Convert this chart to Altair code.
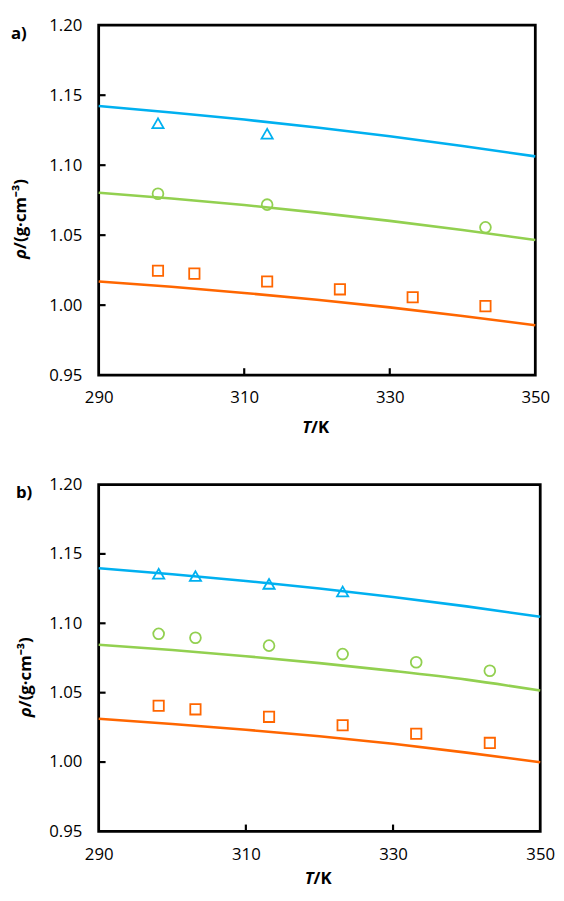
import altair as alt
import pandas as pd

# ---------------- data ----------------
T_line = [290, 300, 310, 320, 330, 340, 350]

# panel a) model lines
a_blue_line = [1.1423, 1.1377, 1.1326, 1.1269, 1.1206, 1.1137, 1.1063]
a_green_line = [1.0803, 1.0762, 1.0715, 1.0661, 1.0602, 1.0537, 1.0465]
a_orange_line = [1.0169, 1.0131, 1.0087, 1.0038, 0.9984, 0.9923, 0.9857]

# panel a) experimental points
a_tri_T = [298.15, 313.15]
a_tri_rho = [1.1300, 1.1225]
a_cir_T = [298.15, 313.15, 343.15]
a_cir_rho = [1.0796, 1.0718, 1.0556]
a_sq_T = [298.15, 303.15, 313.15, 323.15, 333.15, 343.15]
a_sq_rho = [1.0246, 1.0225, 1.0169, 1.0113, 1.0056, 0.9993]

# panel b) model lines
b_blue_line = [1.1397, 1.1353, 1.1305, 1.1250, 1.1190, 1.1122, 1.1047]
b_green_line = [1.0846, 1.0807, 1.0763, 1.0713, 1.0657, 1.0594, 1.0515]
b_orange_line = [1.0312, 1.0275, 1.0233, 1.0186, 1.0132, 1.0068, 0.9999]

# panel b) experimental points
b_tri_T = [298.15, 303.15, 313.15, 323.15]
b_tri_rho = [1.1357, 1.1340, 1.1284, 1.1229]
b_cir_T = [298.15, 303.15, 313.15, 323.15, 333.15, 343.15]
b_cir_rho = [1.0924, 1.0896, 1.0839, 1.0778, 1.0719, 1.0658]
b_sq_T = [298.15, 303.15, 313.15, 323.15, 333.15, 343.15]
b_sq_rho = [1.0406, 1.0380, 1.0326, 1.0265, 1.0204, 1.0138]

x_ticks = [290, 310, 330, 350]
y_ticks = [0.95, 1.00, 1.05, 1.10, 1.15, 1.20]
x_inner_ticks = [310, 330]
y_inner_ticks = [1.00, 1.05, 1.10, 1.15]

series = ["blue", "green", "orange"]
colors = ["#00B0F0", "#92D050", "#FF6600"]
shapes = ["triangle-up", "circle", "square"]
sizes = [130, 110, 110]

FONT = "Open Sans"


def panel(label, lines, pts, width, height, lab_dx, title_dx, xt_dy, yt_y):
    line_rows = []
    for s, vals in zip(series, lines):
        for t, v in zip(T_line, vals):
            line_rows.append({"T": t, "rho": v, "series": s})
    pt_rows = []
    for s, (ts, vs) in zip(series, pts):
        for t, v in zip(ts, vs):
            pt_rows.append({"T": t, "rho": v, "series": s})
    df_l = pd.DataFrame(line_rows)
    df_p = pd.DataFrame(pt_rows)

    xs = alt.Scale(domain=[290, 350], nice=False, zero=False)
    ys = alt.Scale(domain=[0.95, 1.20], nice=False, zero=False)
    cs = alt.Scale(domain=series, range=colors)

    xax = alt.Axis(values=x_ticks, ticks=False, domain=False, grid=False,
                   labelFlush=False, labelOverlap=False,
                   labelPadding=15, labelFontSize=17, labelFont=FONT,
                   labelColor="black", format="d", title=None)
    yax = alt.Axis(values=y_ticks, ticks=False, domain=False, grid=False,
                   labelFlush=False, labelOverlap=False,
                   labelPadding=17, labelFontSize=17, labelFont=FONT,
                   labelColor="black", format=".2f", title=None)

    line = alt.Chart(df_l).mark_line(strokeWidth=2.6, interpolate="monotone").encode(
        x=alt.X("T:Q", scale=xs, axis=xax),
        y=alt.Y("rho:Q", scale=ys, axis=yax),
        color=alt.Color("series:N", scale=cs, legend=None),
    )
    points = alt.Chart(df_p).mark_point(filled=False, strokeWidth=1.8, opacity=1).encode(
        x=alt.X("T:Q", scale=xs),
        y=alt.Y("rho:Q", scale=ys),
        color=alt.Color("series:N", scale=cs, legend=None),
        shape=alt.Shape("series:N", scale=alt.Scale(domain=series, range=shapes), legend=None),
        size=alt.Size("series:N", scale=alt.Scale(domain=series, range=sizes), legend=None),
    )
    yt = alt.Chart(pd.DataFrame({"v": y_inner_ticks})).mark_rule(
        color="black", strokeWidth=2.2).encode(
        y=alt.Y("v:Q", scale=ys), x=alt.value(0), x2=alt.value(7))
    xt = alt.Chart(pd.DataFrame({"v": x_inner_ticks})).mark_rule(
        color="black", strokeWidth=2.2).encode(
        x=alt.X("v:Q", scale=xs), y=alt.value(height), y2=alt.value(height - 7))

    txt = pd.DataFrame({"k": [label]})
    lab = alt.Chart(txt).mark_text(font=FONT, fontSize=17, fontWeight="bold",
                                   align="left", baseline="middle", color="black").encode(
        x=alt.value(lab_dx), y=alt.value(9), text=alt.value(label))
    xt1 = alt.Chart(txt).mark_text(font=FONT, fontSize=17, fontWeight="bold",
                                   fontStyle="italic", align="right", baseline="middle",
                                   color="black").encode(
        x=alt.value(width / 2 - 6), y=alt.value(height + xt_dy), text=alt.value("T"))
    xt2 = alt.Chart(txt).mark_text(font=FONT, fontSize=17, fontWeight="bold",
                                   align="left", baseline="middle", color="black").encode(
        x=alt.value(width / 2 - 6), y=alt.value(height + xt_dy), text=alt.value("/K"))
    yt1 = alt.Chart(txt).mark_text(font=FONT, fontSize=17, fontWeight="bold",
                                   fontStyle="italic", align="right", baseline="middle",
                                   angle=270, color="black").encode(
        x=alt.value(title_dx), y=alt.value(yt_y), text=alt.value("ρ"))
    yt2 = alt.Chart(txt).mark_text(font=FONT, fontSize=17, fontWeight="bold",
                                   align="left", baseline="middle",
                                   angle=270, color="black").encode(
        x=alt.value(title_dx), y=alt.value(yt_y), text=alt.value("/(g·cm⁻³)"))

    return alt.layer(line, points, yt, xt, lab, xt1, xt2, yt1, yt2).properties(
        width=width, height=height)


pa = panel("a)",
           [a_blue_line, a_green_line, a_orange_line],
           [(a_tri_T, a_tri_rho), (a_cir_T, a_cir_rho), (a_sq_T, a_sq_rho)],
           443, 355, -89, -79, 54, 227)
pb = panel("b)",
           [b_blue_line, b_green_line, b_orange_line],
           [(b_tri_T, b_tri_rho), (b_cir_T, b_cir_rho), (b_sq_T, b_sq_rho)],
           448, 352, -84, -74, 48, 226)

chart = alt.vconcat(pa, pb, spacing=36).properties(
    padding={"left": 1, "top": 0, "right": 0, "bottom": 0}
).configure(background="white").configure_view(stroke="black", strokeWidth=2.8)

chart.save("out.html", embed_options={"renderer": "svg", "actions": False})
